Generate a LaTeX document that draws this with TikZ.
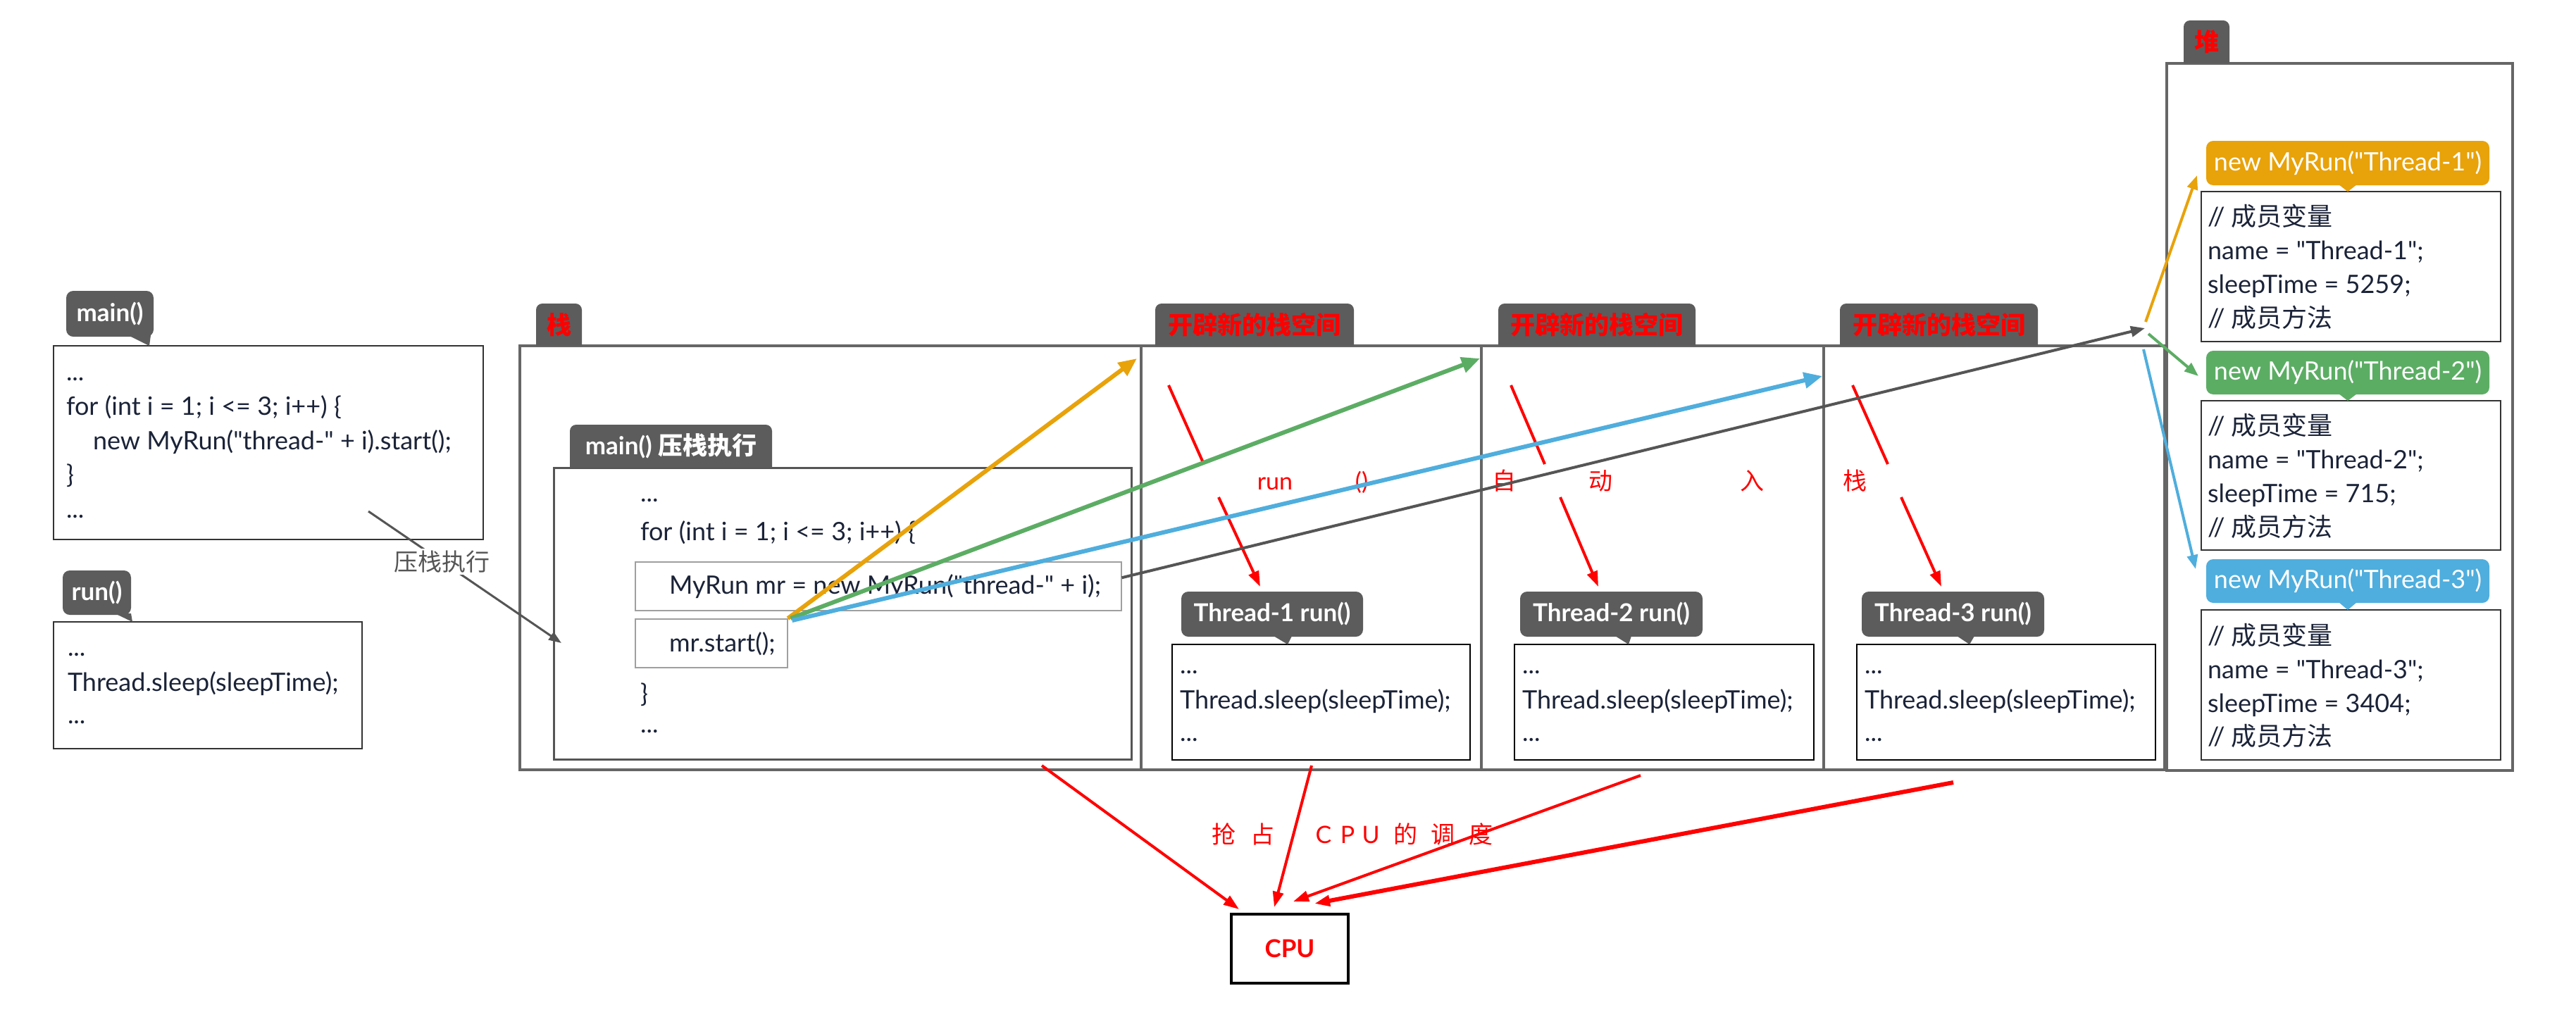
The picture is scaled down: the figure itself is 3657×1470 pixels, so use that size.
\documentclass[tikz,border=0pt]{standalone}
\usepackage{fontspec}
\setmainfont{Lato}[Ligatures=TeXOff]
\newfontfamily\cjk{Noto Sans CJK SC}
\usetikzlibrary{arrows.meta,calc}
\definecolor{tagc}{HTML}{5C5C5C}
\definecolor{codec}{HTML}{1B2338}
\definecolor{boxc}{HTML}{333333}
\definecolor{framec}{HTML}{666666}
\definecolor{orangec}{HTML}{E8A20A}
\definecolor{greenc}{HTML}{5CAD64}
\definecolor{bluec}{HTML}{4FAEDD}
\definecolor{redc}{HTML}{FF0000}
\definecolor{linec}{HTML}{555555}
\newcommand\codefont{\fontsize{36}{42}\selectfont}
\newcommand\tagfont{\fontsize{35}{42}\selectfont\bfseries}
\newcommand\lblfont{\fontsize{34}{40}\selectfont}
\newcommand\tabtag[7]{%
  \fill[tagc] (#2,#5) [rounded corners=9pt] -- (#2,#3) -- (#4,#3) [sharp corners] -- (#4,#5) -- cycle;
  \node[inner sep=0pt, font=\tagfont, text=#6] (#1) at ($(#2,#3)!0.5!(#4,#5)$) {#7};}
\begin{document}
\begin{tikzpicture}[x=1pt,y=-1pt,
  code/.style={anchor=base west, inner sep=0pt, outer sep=0pt, text=codec, font=\codefont},
  box/.style={draw=boxc, line width=2pt, fill=white, anchor=north west, inner sep=0pt, outer sep=0pt},
  frame/.style={draw=framec, line width=4pt, anchor=north west, inner sep=0pt, outer sep=0pt},
  calltag/.style={fill=tagc, rounded corners=10pt, anchor=north west, inner sep=0pt, outer sep=0pt, text=white, font=\tagfont},
  heaptag/.style={rounded corners=10pt, anchor=north west, inner sep=0pt, outer sep=0pt, text=white, font=\codefont, minimum width=402pt},
  lbl/.style={anchor=base, inner sep=0pt, text=redc, font=\lblfont},
  thick arrow/.style={line width=6pt, -{Triangle[length=26pt,width=22pt]}},
  thin arrow/.style={line width=4pt, -{Triangle[length=20pt,width=15pt]}},
  red arrow/.style={draw=redc, line width=4pt, -{Triangle[length=22pt,width=15pt]}},
  red line/.style={draw=redc, line width=4pt}]
\fill[white] (0,0) rectangle (3657,1470);
\useasboundingbox (0,0) rectangle (3657,1470);

% ---------- left side ----------
\node[box, minimum width=610pt, minimum height=275pt] (mainbox) at (76,491) {};
\node[code] (m1) at (94,540) {...};
\node[code] (m2) at (94,589) {for (int i = 1; i <= 3; i++) \{};
\node[code] (m3) at (132,638) {new MyRun("thread-" + i).start();};
\node[code] (m4) at (94,686) {\}};
\node[code] (m5) at (94,735) {...};
\node[calltag, minimum width=124pt, minimum height=65pt] (maintag) at (94,413) {main()};
\fill[tagc] (182,476) -- (214,476) -- (212,491) -- cycle;

\node[box, minimum width=438pt, minimum height=180pt] (runbox) at (76,883) {};
\node[code] (r1) at (96,931) {...};
\node[code] (r2) at (96,981) {Thread.sleep(sleepTime);};
\node[code] (r3) at (96,1027) {...};
\node[calltag, minimum width=97pt, minimum height=63pt] (runtag) at (89,810) {run()};
\fill[tagc] (163,871) -- (186,871) -- (188,883) -- cycle;

% ---------- stack ----------
\node[frame, minimum width=882pt, minimum height=602pt] (stackbox) at (738,491) {};
\node[frame, minimum width=483pt, minimum height=602pt] (col1) at (1620,491) {};
\node[frame, minimum width=486pt, minimum height=602pt] (col2) at (2103,491) {};
\node[frame, minimum width=484pt, minimum height=602pt] (col3) at (2589,491) {};
\node[frame, minimum width=491pt, minimum height=1004pt] (heapbox) at (3076,90) {};
\node[frame, line width=3pt, draw=linec, minimum width=820pt, minimum height=414pt] (innerbox) at (786,664) {};
\node[draw=gray!75, line width=1.5pt, anchor=north west, inner sep=0pt, minimum width=690pt, minimum height=69pt] (myrunbox) at (901,797) {};
\node[draw=gray!75, line width=1.5pt, anchor=north west, inner sep=0pt, minimum width=216pt, minimum height=69pt] (startbox) at (901,878) {};
\node[code] (s1) at (909,712) {...};
\node[code] (s2) at (909,767) {for (int i = 1; i <= 3; i++) \{};
\node[code] (s3) at (950,843) {MyRun mr = new MyRun("thread-" + i);};
\node[code] (s4) at (950,925) {mr.start();};
\node[code] (s5) at (909,997) {\}};
\node[code] (s6) at (909,1040) {...};

\tabtag{stacktag}{761}{431}{826}{491}{redc}{\cjk 栈}
\tabtag{innertag}{809}{603}{1096}{664}{white}{main() {\cjk 压栈执行}}
\tabtag{ctag1}{1640}{431}{1922}{491}{redc}{\cjk 开辟新的栈空间}
\tabtag{ctag2}{2127}{431}{2407}{491}{redc}{\cjk 开辟新的栈空间}
\tabtag{ctag3}{2612}{431}{2893}{491}{redc}{\cjk 开辟新的栈空间}
\tabtag{heaptagname}{3100}{29}{3165}{90}{redc}{\cjk 堆}

% ---------- thread run boxes ----------
\node[box, draw=black, minimum width=423pt, minimum height=164pt] (t1box) at (1664,915) {};
\node[code] (t1a) at (1675,956) {...};
\node[code] (t1b) at (1675,1006) {Thread.sleep(sleepTime);};
\node[code] (t1c) at (1675,1052) {...};
\node[calltag, minimum width=258pt, minimum height=64pt] (t1tag) at (1677,840) {Thread-1 run()};
\fill[tagc] (1808,903) -- (1834,903) -- (1828,915) -- cycle;

\node[box, draw=black, minimum width=425pt, minimum height=164pt] (t2box) at (2150,915) {};
\node[code] (t2a) at (2161,956) {...};
\node[code] (t2b) at (2161,1006) {Thread.sleep(sleepTime);};
\node[code] (t2c) at (2161,1052) {...};
\node[calltag, minimum width=259pt, minimum height=64pt] (t2tag) at (2158,840) {Thread-2 run()};
\fill[tagc] (2293,903) -- (2316,903) -- (2312,915) -- cycle;

\node[box, draw=black, minimum width=424pt, minimum height=164pt] (t3box) at (2636,915) {};
\node[code] (t3a) at (2647,956) {...};
\node[code] (t3b) at (2647,1006) {Thread.sleep(sleepTime);};
\node[code] (t3c) at (2647,1052) {...};
\node[calltag, minimum width=259pt, minimum height=64pt] (t3tag) at (2643,840) {Thread-3 run()};
\fill[tagc] (2778,903) -- (2803,903) -- (2796,915) -- cycle;

% ---------- heap objects ----------
\node[box, minimum width=425pt, minimum height=213pt] (h1box) at (3125,272) {};
\node[code] (h1a) at (3134,320) {// {\cjk 成员变量}};
\node[code] (h1b) at (3134,368) {name = "Thread-1";};
\node[code] (h1c) at (3134,416) {sleepTime = 5259;};
\node[code] (h1d) at (3134,464) {// {\cjk 成员方法}};
\node[heaptag, fill=orangec, minimum height=63pt] (h1tag) at (3132,200) {new MyRun("Thread-1")};
\fill[orangec] (3320,262) -- (3346,262) -- (3333,272) -- cycle;

\node[box, minimum width=425pt, minimum height=212pt] (h2box) at (3125,569) {};
\node[code] (h2a) at (3134,617) {// {\cjk 成员变量}};
\node[code] (h2b) at (3134,665) {name = "Thread-2";};
\node[code] (h2c) at (3134,713) {sleepTime = 715;};
\node[code] (h2d) at (3134,761) {// {\cjk 成员方法}};
\node[heaptag, fill=greenc, minimum height=62pt] (h2tag) at (3132,498) {new MyRun("Thread-2")};
\fill[greenc] (3320,559) -- (3346,559) -- (3333,569) -- cycle;

\node[box, minimum width=425pt, minimum height=213pt] (h3box) at (3125,866) {};
\node[code] (h3a) at (3134,915) {// {\cjk 成员变量}};
\node[code] (h3b) at (3134,963) {name = "Thread-3";};
\node[code] (h3c) at (3134,1011) {sleepTime = 3404;};
\node[code] (h3d) at (3134,1058) {// {\cjk 成员方法}};
\node[heaptag, fill=bluec, minimum height=62pt] (h3tag) at (3132,794) {new MyRun("Thread-3")};
\fill[bluec] (3320,855) -- (3346,855) -- (3333,866) -- cycle;

% ---------- CPU ----------
\node[draw=black, line width=4pt, anchor=north west, inner sep=0pt, minimum width=166pt, minimum height=98pt, text=redc, font=\tagfont] (cpu) at (1746,1296) {CPU};

% ---------- labels ----------
\node[lbl] (lrun) at (1810,695) {run};
\node[lbl] (lpar) at (1933,695) {()};
\node[lbl] (lzi) at (2135,695) {\cjk 自};
\node[lbl] (ldong) at (2272,695) {\cjk 动};
\node[lbl] (lru) at (2487,695) {\cjk 入};
\node[lbl] (lzhan) at (2633,695) {\cjk 栈};

\node[lbl] (q1) at (1737,1197) {\cjk 抢};
\node[lbl] (q2) at (1792,1197) {\cjk 占};
\node[lbl] (q3) at (1879,1197) {C};
\node[lbl] (q4) at (1913,1197) {P};
\node[lbl] (q5) at (1946,1197) {U};
\node[lbl] (q6) at (1995,1197) {\cjk 的};
\node[lbl] (q7) at (2048,1197) {\cjk 调};
\node[lbl] (q8) at (2102,1197) {\cjk 度};

% ---------- connectors ----------
\coordinate (pushfrom) at (523,726);
\coordinate (pushto) at (797,913);
\draw[draw=linec, line width=3pt, -{Triangle[length=18pt,width=13pt]}] (pushfrom) -- node[pos=0.383, fill=white, inner sep=3pt, text=linec, font=\lblfont\cjk] (pushlbl) {压栈执行} (pushto);

\coordinate (ra1) at (1659,547); \coordinate (rb1) at (1709,659);
\coordinate (rc1) at (1730,706); \coordinate (rd1) at (1789,833);
\coordinate (ra2) at (2145,547); \coordinate (rb2) at (2193,659);
\coordinate (rc2) at (2215,706); \coordinate (rd2) at (2269,833);
\coordinate (ra3) at (2630,547); \coordinate (rb3) at (2680,659);
\coordinate (rc3) at (2699,706); \coordinate (rd3) at (2756,833);
\draw[red line] (ra1) -- (rb1); \draw[red arrow] (rc1) -- (rd1);
\draw[red line] (ra2) -- (rb2); \draw[red arrow] (rc2) -- (rd2);
\draw[red line] (ra3) -- (rb3); \draw[red arrow] (rc3) -- (rd3);

\coordinate (o1) at (1614,509);
\coordinate (g1) at (2101,509);
\coordinate (b1) at (2587,534);
\draw[orangec, thick arrow] (startbox.north east) -- (o1);
\draw[greenc, thick arrow] ([xshift=4pt]startbox.north east) -- (g1);
\draw[bluec, thick arrow] ([xshift=6pt,yshift=-3pt]startbox.north east) -- (b1);

\coordinate (hub) at (3045,466);
\draw[linec, thin arrow] ([yshift=12pt]myrunbox.east) -- (hub);
\coordinate (ho) at (3046,457);
\coordinate (hg) at (3050,474);
\coordinate (hb) at (3043,496);
\coordinate (ho2) at (3119,249);
\coordinate (hg2) at (3121,534);
\coordinate (hb2) at (3117,808);
\draw[orangec, thin arrow] (ho) -- (ho2);
\draw[greenc, thin arrow] (hg) -- (hg2);
\draw[bluec, thin arrow] (hb) -- (hb2);

\coordinate (c1s) at (1479,1087); \coordinate (c1e) at (1759,1291);
\coordinate (c2s) at (1862,1087); \coordinate (c2e) at (1809,1288);
\coordinate (c3s) at (2329,1101); \coordinate (c3e) at (1836,1280);
\coordinate (c4s) at (2773,1111); \coordinate (c4e) at (1866,1283);
\draw[red arrow] (c1s) -- (c1e);
\draw[red arrow] (c2s) -- (c2e);
\draw[red arrow] (c3s) -- (c3e);
\draw[red arrow, line width=6pt] (c4s) -- (c4e);
\end{tikzpicture}
\end{document}
